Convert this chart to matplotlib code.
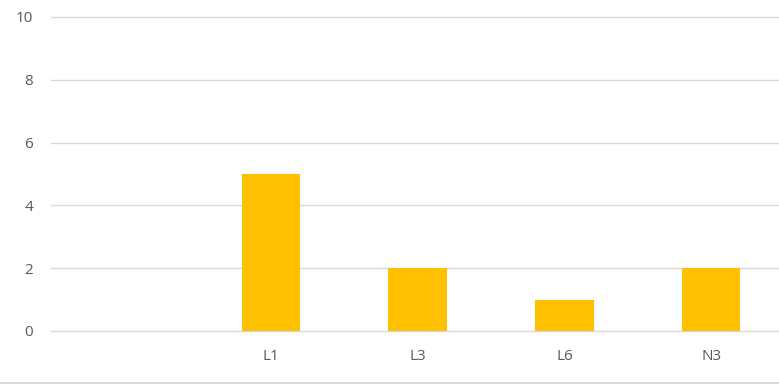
import matplotlib.pyplot as plt
from matplotlib.lines import Line2D

categories = ['', 'L1', 'L3', 'L6', 'N3']
values = [0, 5, 2, 1, 2]
y_ticks = [0, 2, 4, 6, 8, 10]

plt.rcParams['font.family'] = ['Open Sans', 'DejaVu Sans']

fig = plt.figure(figsize=(7.79, 3.85), dpi=100)
ax = fig.add_axes([51 / 779, 54 / 385, 733.5 / 779, 314 / 385])

x = range(len(categories))
ax.bar(x, values, width=0.40, color='#FFC000', zorder=3)

ax.set_xlim(-0.5, len(categories) - 0.5)
ax.set_ylim(0, 10)
ax.set_xticks(list(x))
ax.set_xticklabels(categories)
ax.set_yticks(y_ticks)

ax.grid(axis='y', color='#D9D9D9', linewidth=1, zorder=0)
for gl in ax.get_ygridlines():
    gl.set_clip_on(False)
ax.tick_params(axis='both', length=0, labelsize=11, labelcolor='#595959')
ax.tick_params(axis='y', pad=13)
ax.tick_params(axis='x', pad=13)
for side in ['top', 'right', 'left', 'bottom']:
    ax.spines[side].set_visible(False)

# outer border line along the bottom
fig.add_artist(Line2D([0, 1], [2.5 / 385, 2.5 / 385], color='#D9D9D9', linewidth=1.5))

fig.savefig('out.png', dpi=100)
